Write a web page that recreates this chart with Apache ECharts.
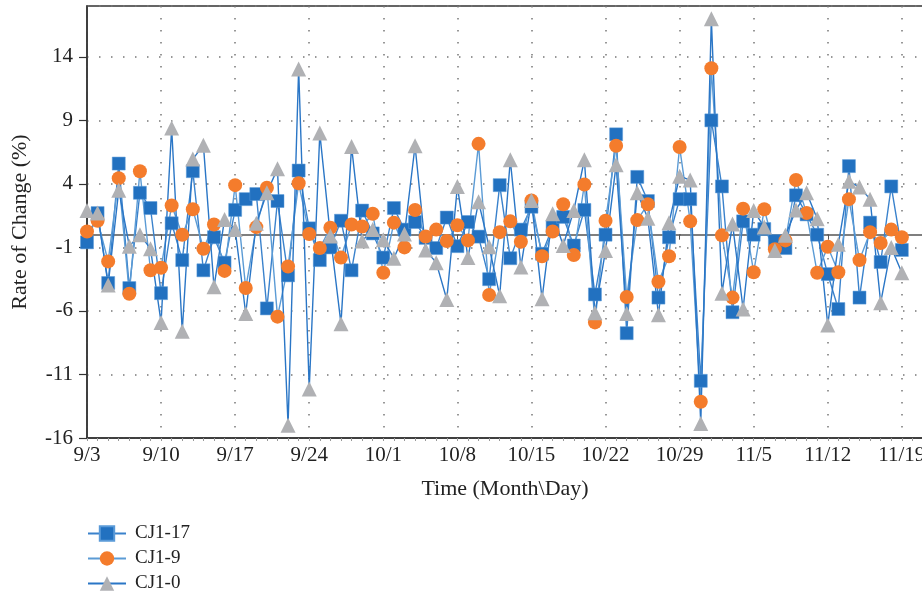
<!DOCTYPE html>
<html>
<head>
<meta charset="utf-8">
<script src="https://cdn.jsdelivr.net/npm/echarts@6/dist/echarts.min.js"></script>
<style>html,body{margin:0;padding:0;background:#fff}#c{width:922px;height:599px}</style>
</head>
<body>
<div id="c"></div>
<script>
// Dates: daily from 9/3 (axis runs to 11/21, data to 11/19)
var startMonth = 9, startDay = 3, axisDays = 80;
var cj17 = [-0.6,1.7,-3.8,5.6,-4.2,3.3,2.1,-4.6,0.9,-2.0,5.0,-2.8,-0.2,-2.2,1.95,2.8,3.2,-5.8,2.65,-3.2,5.05,0.5,-2.0,-1.0,1.1,-2.8,1.9,0.1,-1.8,2.1,0.4,1.0,-0.25,-1.05,1.35,-0.9,1.0,-0.15,-3.5,3.9,-1.85,0.4,2.2,-1.5,0.6,1.4,-0.85,1.95,-4.7,0,7.9,-7.75,4.55,2.65,-4.95,-0.2,2.8,2.8,-11.5,9.0,3.8,-6.1,1.05,0,0.45,-0.5,-1.05,3.1,1.6,0,-3.1,-5.85,5.4,-4.95,0.95,-2.15,3.8,-1.2];
var cj9 = [0.25,1.1,-2.1,4.45,-4.65,5.0,-2.8,-2.6,2.3,0,2.0,-1.1,0.8,-2.85,3.9,-4.2,0.6,3.7,-6.45,-2.5,4.05,0.05,-1.05,0.55,-1.8,0.8,0.65,1.65,-3.0,0.95,-1.0,1.95,-0.15,0.4,-0.5,0.75,-0.45,7.15,-4.75,0.2,1.05,-0.55,2.7,-1.7,0.25,2.4,-1.6,3.95,-6.9,1.1,7.0,-4.9,1.15,2.4,-3.7,-1.7,6.9,1.05,-13.15,13.1,-0.05,-4.95,2.05,-2.95,2.0,-1.15,-0.45,4.3,1.7,-3.0,-0.95,-2.95,2.8,-2.0,0.2,-0.65,0.4,-0.2];
var cj0 = [1.9,1.7,-3.95,3.5,-0.9,0,-1.1,-6.9,8.4,-7.6,5.95,7.05,-4.1,1.2,0.4,-6.2,0.9,3.3,5.2,-15.0,13.05,-12.15,8.0,-0.1,-7.0,6.95,-0.5,0.4,-0.4,-1.85,0.05,7.0,-1.2,-2.2,-5.1,3.8,-1.8,2.6,-0.95,-4.8,5.9,-2.55,2.7,-5.05,1.65,-0.85,1.9,5.9,-6.15,-1.25,5.5,-6.2,3.3,1.3,-6.3,0.95,4.6,4.3,-14.85,17.0,-4.6,0.85,-5.85,1.9,0.6,-1.25,-0.05,1.95,3.3,1.25,-7.1,-0.75,4.2,3.75,2.8,-5.35,-1.0,-3.0];
var yMin = -16, yMax = 18, yStep = 5;

var categories = [];
(function(){
  var d = new Date(2020, startMonth - 1, startDay);
  for (var i = 0; i < axisDays; i++) {
    categories.push((d.getMonth() + 1) + '/' + d.getDate());
    d.setDate(d.getDate() + 1);
  }
})();

var serif = '"Liberation Serif","DejaVu Serif",serif';
var chart = echarts.init(document.getElementById('c'), null, {renderer: 'canvas'});
chart.setOption({
  animation: false,
  backgroundColor: '#fff',
  grid: {left: 87, right: -1, top: 6, bottom: 161, containLabel: false, outerBoundsMode: 'none',
         show: true, borderColor: '#333', borderWidth: 1.5, backgroundColor: 'transparent'},
  legend: {
    orient: 'vertical', left: 87, top: 524, height: 90, itemGap: 6, itemWidth: 38, itemHeight: 18,
    padding: 0,
    textStyle: {fontFamily: serif, fontSize: 19, color: '#222', padding: [0, 0, 0, 4]},
    data: ['CJ1-17', 'CJ1-9', 'CJ1-0']
  },
  xAxis: [{
    type: 'category', data: categories, boundaryGap: false,
    axisLine: {onZero: false, lineStyle: {color: '#333', width: 1.5}},
    axisTick: {show: true, interval: 0, length: 3, lineStyle: {color: '#999'}},
    axisLabel: {interval: 6, fontFamily: serif, fontSize: 21, color: '#222', margin: 7},
    splitLine: {show: true, interval: 6, lineStyle: {color: '#777', type: [1.5, 10.5], width: 1.5}},
    name: 'Time (Month\\Day)', nameLocation: 'middle', nameGap: 40,
    nameTextStyle: {fontFamily: serif, fontSize: 22, color: '#222'}
  }, {
    type: 'category', data: categories, boundaryGap: false, position: 'bottom',
    axisLine: {onZero: true, lineStyle: {color: '#555', width: 1.5}},
    axisTick: {show: true, interval: 6, length: 5, lineStyle: {color: '#555'}},
    axisLabel: {show: false}, splitLine: {show: false}
  }],
  yAxis: {
    type: 'value', min: yMin, max: yMax, interval: yStep,
    axisLine: {show: true, lineStyle: {color: '#333', width: 1.5}},
    axisTick: {show: true, length: 8, lineStyle: {color: '#333', width: 1.2}},
    axisLabel: {showMaxLabel: false, fontFamily: serif, fontSize: 21, color: '#222', margin: 14},
    splitLine: {show: true, lineStyle: {color: '#777', type: [1.5, 10.5], width: 1.5}},
    name: 'Rate of Change (%)', nameLocation: 'middle', nameGap: 56,
    nameTextStyle: {fontFamily: serif, fontSize: 22, color: '#222'}
  },
  series: [{
    name: 'CJ1-17', type: 'line', data: cj17, symbol: 'rect', symbolSize: 13, showSymbol: true, showAllSymbol: true,
    lineStyle: {color: '#3a82cc', width: 1.4}, itemStyle: {color: '#2271c0', borderColor: '#5a9ad8', borderWidth: 0.5}
  }, {
    name: 'CJ1-9', type: 'line', data: cj9, symbol: 'circle', symbolSize: 14, showSymbol: true, showAllSymbol: true,
    lineStyle: {color: '#5b9bd5', width: 1.4}, itemStyle: {color: '#f47c2c'}
  }, {
    name: 'CJ1-0', type: 'line', data: cj0, symbol: 'triangle', symbolSize: 15, showSymbol: true, showAllSymbol: true,
    lineStyle: {color: '#2a76c6', width: 1.4}, itemStyle: {color: '#b0b1b4'}
  }]
});
</script>
</body>
</html>
